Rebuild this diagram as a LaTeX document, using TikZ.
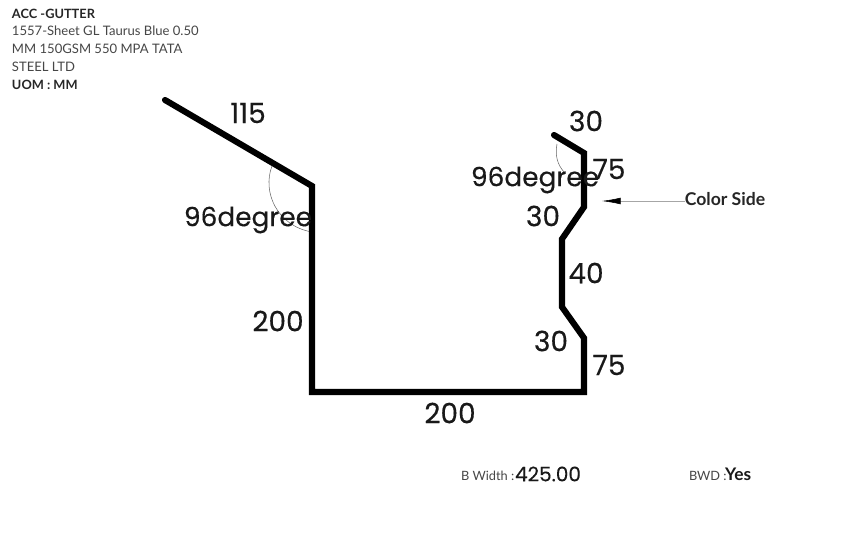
\documentclass[tikz,border=0pt]{standalone}
\usepackage{fontspec}
\setmainfont{Poppins}[FakeBold=0.25]
\newfontfamily\smallfont{Lato}
\usetikzlibrary{calc,arrows.meta}
\definecolor{headgrey}{RGB}{70,70,70}

\begin{document}
\begin{tikzpicture}[x=0.75pt,y=-0.75pt,every node/.style={outer sep=0pt,inner sep=0pt}]
\tikzstyle{sheet}=[line width=4.6pt,line cap=round,line join=miter]
\tikzstyle{anglearc}=[line width=0.4pt,black!60]
\tikzstyle{dim}=[font=\fontsize{21}{21}\selectfont,black!90]
\tikzstyle{angletext}=[font=\fontsize{19.8}{19.8}\selectfont,black!90]
\tikzstyle{head}=[font=\smallfont\fontsize{9.8}{9.8}\selectfont,anchor=west,headgrey]
\tikzstyle{headbold}=[head,font=\smallfont\bfseries\fontsize{9.6}{9.6}\selectfont,black!85]
\useasboundingbox (0,0) rectangle (848,552);

\coordinate (P0) at (165,100);
\coordinate (P1) at (312,186);
\coordinate (P2) at (312,392);
\coordinate (P3) at (584,392);
\coordinate (P4) at (584,338);
\coordinate (P5) at (562,307);
\coordinate (P6) at (562,239);
\coordinate (P7) at (584,207);
\coordinate (P8) at (584,153);
\coordinate (P9) at (554,135);

\draw [anglearc] (272,166) .. controls (262,192) and (277,226) .. (312,232);
\draw [anglearc] (557,144) .. controls (555,155) and (557,164) .. (564,172);

\draw [sheet] (P0) -- (P1) -- (P2) -- (P3) -- (P4) -- (P5) -- (P6) -- (P7) -- (P8) -- (P9);

% dimensions
\node (D115) at (248,113) [dim] {115};
\node (A1) at (248,220) [angletext] {96degree};
\node (D200a) at (278,321) [dim] {200};
\node (D200b) at (450,413) [dim] {200};
\node (D30a) at (586,121) [dim] {30};
\node (D75a) at (609,169) [dim] {75};
\node (A2) at (535,180) [angletext] {96degree};
\node (D30b) at (543,216) [dim] {30};
\node (D40) at (586,273) [dim] {40};
\node (D30c) at (551,341) [dim] {30};
\node (D75b) at (609,365) [dim] {75};

% colour side
\node (CS) at (725,199) [font=\smallfont\bfseries\fontsize{13.2}{13.2}\selectfont,black!85] {Color Side};
\coordinate (CSTip) at (602,201);
\draw [-{Latex[length=14pt,width=5pt,black]},line width=0.4pt,black!35] (CS.west |- CSTip) -- (CSTip);

% header
\node (H1) at (12,14) [headbold] {ACC -GUTTER};
\node (H2) at (12,31) [head] {1557-Sheet GL Taurus Blue 0.50};
\node (H3) at (12,49) [head] {MM 150GSM 550 MPA TATA};
\node (H4) at (12,67) [head] {STEEL LTD};
\node (H5) at (12,85) [headbold] {UOM : MM};

% footer
\node (BW) at (461,476) [head,font=\smallfont\fontsize{9.6}{9.6}\selectfont] {B Width :};
\node (BWV) at (515,474) [anchor=west,font=\fontsize{15}{15}\selectfont,black!90] {425.00};
\node (BD) at (689,476) [head,font=\smallfont\fontsize{9.6}{9.6}\selectfont] {BWD :};
\node (BDV) at (725,474) [anchor=west,font=\smallfont\bfseries\fontsize{13}{13}\selectfont,black!90] {Yes};

\end{tikzpicture}
\end{document}
